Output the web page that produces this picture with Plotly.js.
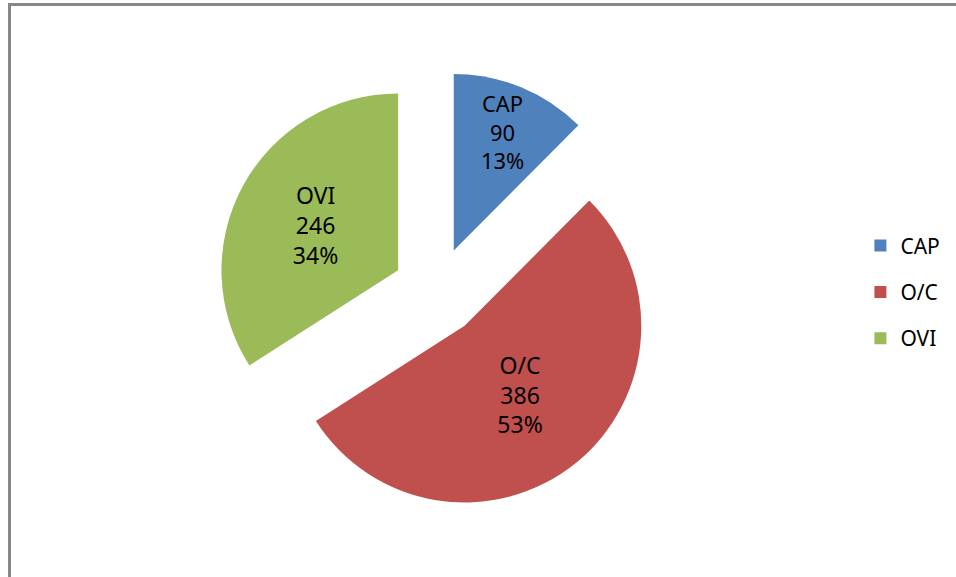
<!DOCTYPE html>
<html>
<head>
<meta charset="utf-8">
<script src="https://cdn.plot.ly/plotly-3.0.1.min.js"></script>
<style>
  html, body { margin: 0; padding: 0; background: #ffffff; }
  #wrap { position: relative; width: 956px; height: 577px; overflow: hidden; }
  #chart { position: absolute; left: 0; top: 0; width: 956px; height: 577px; }
  #frame { position: absolute; left: 8px; top: 3px; width: 960px; height: 600px;
           border-left: 3px solid #878787; border-top: 3px solid #878787; pointer-events: none; }
</style>
</head>
<body>
<div id="wrap">
  <div id="chart"></div>
  <div id="frame"></div>
</div>
<script>
const categories = ['CAP', 'O/C', 'OVI'];
const values = [90, 386, 246];
const percentLabels = ['13%', '53%', '34%'];
const colors = ['#4F81BD', '#C0504D', '#9BBB59'];

const fontFamily = 'Noto Sans, Open Sans, sans-serif';

const pieTrace = {
  type: 'pie',
  labels: categories,
  values: values,
  customdata: percentLabels,
  sort: false,
  direction: 'clockwise',
  rotation: 0,
  pull: [0.25, 0.25, 0.25],
  marker: { colors: colors, line: { width: 0 } },
  texttemplate: '%{label}<br>%{value}<br>%{customdata}',
  textposition: 'inside',
  insidetextorientation: 'horizontal',
  textfont: { family: fontFamily, size: 23, color: '#000000' },
  hoverinfo: 'none',
  showlegend: false,
  domain: { x: [0.226, 0.688], y: [0.112, 0.878] }
};

// legend entries, one per category
const legendTraces = categories.map((c, i) => ({
  type: 'scatter',
  mode: 'markers',
  x: [null], y: [null],
  name: c,
  legendgroup: c,
  marker: { symbol: 'square', size: 12, color: colors[i] },
  showlegend: true,
  hoverinfo: 'none'
}));

const layout = {
  width: 956,
  height: 577,
  margin: { l: 0, r: 0, t: 0, b: 0 },
  paper_bgcolor: '#ffffff',
  plot_bgcolor: '#ffffff',
  xaxis: { visible: false },
  yaxis: { visible: false },
  showlegend: true,
  legend: {
    x: 0.9, xanchor: 'left',
    y: 0.494, yanchor: 'middle',
    font: { family: fontFamily, size: 21, color: '#000000' },
    tracegroupgap: 16,
    traceorder: 'grouped',
    itemwidth: 30,
    bgcolor: 'rgba(0,0,0,0)'
  }
};

Plotly.newPlot('chart', [pieTrace].concat(legendTraces), layout, { displayModeBar: false, staticPlot: true });
</script>
</body>
</html>
